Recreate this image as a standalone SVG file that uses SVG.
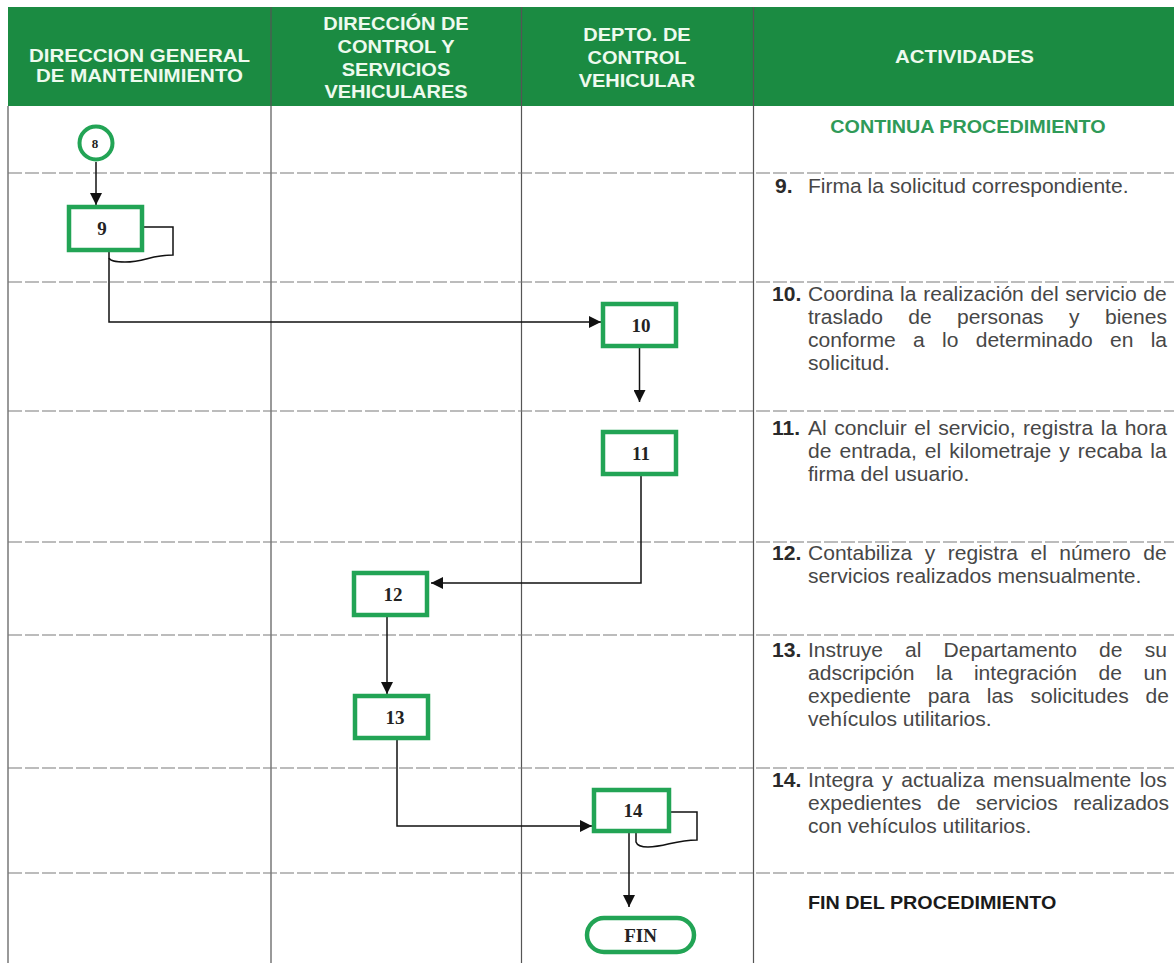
<svg xmlns="http://www.w3.org/2000/svg" width="1174" height="963" viewBox="0 0 1174 963">
<defs>
<marker id="arr" viewBox="0 0 12 12" refX="12" refY="6" markerWidth="12" markerHeight="12" markerUnits="userSpaceOnUse" orient="auto"><path d="M0,0 L12,6 L0,12 z" fill="#111"/></marker>
</defs>
<style>
.hdr{font-family:"Liberation Sans",Arial,sans-serif;font-weight:bold;font-size:18.5px;fill:#eefaee;text-anchor:middle}
.row{stroke:#7a7a7a;stroke-width:1.2;stroke-dasharray:14 3;fill:none}
.col{stroke:#555;stroke-width:1.2}
.box{fill:#fff;stroke:#22a455;stroke-width:4.5}
.lbl{font-family:"Liberation Serif","Times New Roman",serif;font-weight:bold;font-size:19px;fill:#222;text-anchor:middle}
.txt{font-family:"Liberation Sans",Arial,sans-serif;font-size:19.5px;fill:#474747}
.num{font-weight:bold;fill:#2a2a2a}
.con{stroke:#111;stroke-width:1.5;fill:none}
</style>
<rect width="1174" height="963" fill="#fff"/>
<g id="table">
<rect x="8" y="7" width="1166" height="99" fill="#1b8b42"/>
<line class="col" x1="8" y1="106" x2="8" y2="963"/>
<line class="col" x1="271" y1="7" x2="271" y2="963"/>
<line class="col" x1="521.5" y1="7" x2="521.5" y2="963"/>
<line class="col" x1="753.5" y1="7" x2="753.5" y2="963"/>
<line class="row" x1="8" y1="173" x2="1174" y2="173"/>
<line class="row" x1="8" y1="282" x2="1174" y2="282"/>
<line class="row" x1="8" y1="411" x2="1174" y2="411"/>
<line class="row" x1="8" y1="542" x2="1174" y2="542"/>
<line class="row" x1="8" y1="635" x2="1174" y2="635"/>
<line class="row" x1="8" y1="768" x2="1174" y2="768"/>
<line class="row" x1="8" y1="873" x2="1174" y2="873"/>
</g>
<g id="header" transform="scale(1.08,1)">
<text class="hdr" x="129.17" y="62" style="font-size:19px">DIRECCION GENERAL</text>
<text class="hdr" x="129.17" y="82" style="font-size:19px">DE MANTENIMIENTO</text>
<text class="hdr" x="366.67" y="30">DIRECCIÓN DE</text>
<text class="hdr" x="366.67" y="53">CONTROL Y</text>
<text class="hdr" x="366.67" y="76">SERVICIOS</text>
<text class="hdr" x="366.67" y="98">VEHICULARES</text>
<text class="hdr" x="589.81" y="41">DEPTO. DE</text>
<text class="hdr" x="589.81" y="64">CONTROL</text>
<text class="hdr" x="589.81" y="87">VEHICULAR</text>
<text class="hdr" x="893.06" y="63" style="font-size:19px">ACTIVIDADES</text>
</g>
<g id="activities" transform="scale(1.08,1)">
<text class="txt" x="896.3" y="133" style="font-weight:bold;font-size:18.3px;fill:#2f9a58;text-anchor:middle">CONTINUA PROCEDIMIENTO</text>
<text class="txt num" x="717.6" y="193">9.</text>
<text class="txt" x="748.15" y="193">Firma la solicitud correspondiente.</text>
<text class="txt num" x="714.8" y="301">10.</text>
<text class="txt" x="748.15" y="301" word-spacing="0.8">Coordina la realización del servicio de</text>
<text class="txt" x="748.15" y="324" word-spacing="18.1">traslado de personas y bienes</text>
<text class="txt" x="748.15" y="347" word-spacing="10.6">conforme a lo determinado en la</text>
<text class="txt" x="748.15" y="370">solicitud.</text>
<text class="txt num" x="714.8" y="435">11.</text>
<text class="txt" x="748.15" y="435" word-spacing="1.6">Al concluir el servicio, registra la hora</text>
<text class="txt" x="748.15" y="458" word-spacing="2.1">de entrada, el kilometraje y recaba la</text>
<text class="txt" x="748.15" y="481">firma del usuario.</text>
<text class="txt num" x="714.8" y="560">12.</text>
<text class="txt" x="748.15" y="560" word-spacing="6.2">Contabiliza y registra el número de</text>
<text class="txt" x="748.15" y="583">servicios realizados mensualmente.</text>
<text class="txt num" x="714.8" y="657">13.</text>
<text class="txt" x="748.15" y="657" word-spacing="15.1">Instruye al Departamento de su</text>
<text class="txt" x="748.15" y="680" word-spacing="14.55">adscripción la integración de un</text>
<text class="txt" x="748.15" y="703" word-spacing="10.15">expediente para las solicitudes de</text>
<text class="txt" x="748.15" y="726">vehículos utilitarios.</text>
<text class="txt num" x="714.8" y="787">14.</text>
<text class="txt" x="748.15" y="787" word-spacing="2.6">Integra y actualiza mensualmente los</text>
<text class="txt" x="748.15" y="810" word-spacing="8.9">expedientes de servicios realizados</text>
<text class="txt" x="748.15" y="833">con vehículos utilitarios.</text>
<text class="txt" x="748.15" y="909" style="font-weight:bold;font-size:18.3px;fill:#1a1a1a">FIN DEL PROCEDIMIENTO</text>
</g>
<g id="connectors">
<path class="con" d="M96,162 V205" marker-end="url(#arr)"/>
<path class="con" d="M144,227 H173 V255 C150,255 145,262 125,262 C115,262 110,261 109,258"/>
<path class="con" d="M109,252 V322 H601" marker-end="url(#arr)"/>
<path class="con" d="M639.5,348 V402" marker-end="url(#arr)"/>
<path class="con" d="M641,476 V583 H431" marker-end="url(#arr)"/>
<path class="con" d="M387,617 V694" marker-end="url(#arr)"/>
<path class="con" d="M397,740 V826 H592" marker-end="url(#arr)"/>
<path class="con" d="M671,812 H697 V840 C675,840 665,847 648,847 C640,847 637,845 636,842 V833"/>
<path class="con" d="M629,833 V907" marker-end="url(#arr)"/>
</g>
<g id="node-8">
<circle cx="96" cy="143" r="16.5" fill="#fff" stroke="#22a455" stroke-width="4"/>
<text class="lbl" x="95" y="148" style="font-size:13px">8</text>
</g>
<g id="node-9">
<rect class="box" x="69" y="207" width="73" height="43"/>
<text class="lbl" x="102" y="235">9</text>
</g>
<g id="node-10">
<rect class="box" x="603" y="304" width="73" height="42"/>
<text class="lbl" x="641" y="332">10</text>
</g>
<g id="node-11">
<rect class="box" x="603" y="432" width="73" height="42"/>
<text class="lbl" x="641" y="460">11</text>
</g>
<g id="node-12">
<rect class="box" x="354" y="573" width="73" height="42"/>
<text class="lbl" x="393" y="601">12</text>
</g>
<g id="node-13">
<rect class="box" x="355" y="696" width="73" height="42"/>
<text class="lbl" x="395" y="724">13</text>
</g>
<g id="node-14">
<rect class="box" x="594" y="790" width="75" height="41"/>
<text class="lbl" x="633" y="817">14</text>
</g>
<g id="node-fin">
<rect class="box" x="587" y="918" width="107" height="34" rx="17"/>
<text class="lbl" x="640.5" y="942">FIN</text>
</g>
</svg>
